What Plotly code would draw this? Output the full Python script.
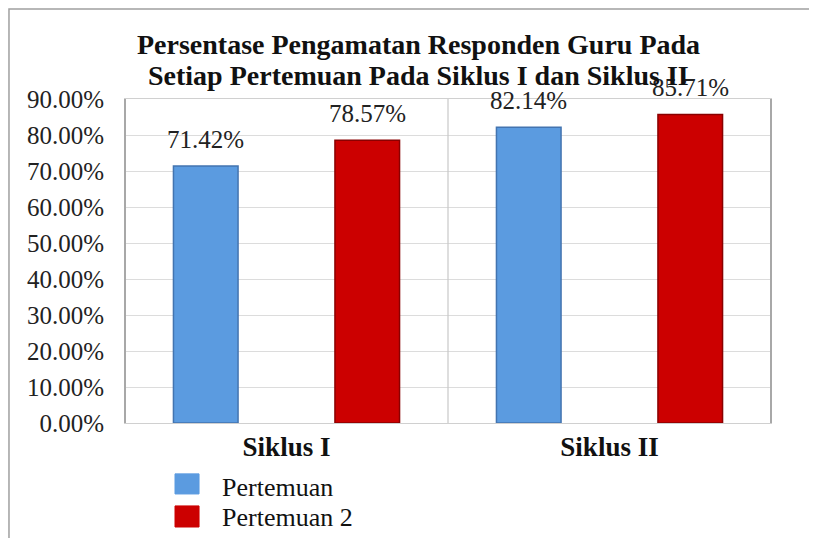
import plotly.graph_objects as go

# Data
categories = ["Siklus I", "Siklus II"]
series_names = ["Pertemuan", "Pertemuan 2"]
pertemuan_1 = [71.42, 82.14]
pertemuan_2 = [78.57, 85.71]
y_ticks = [0, 10, 20, 30, 40, 50, 60, 70, 80, 90]
y_tick_labels = [f"{v:.2f}%" for v in y_ticks]
title_lines = ["Persentase Pengamatan Responden Guru Pada",
               "Setiap Pertemuan Pada Siklus I dan Siklus II"]

serif = "Liberation Serif, Times New Roman, serif"
fills = ["#5b9be0", "#cc0000"]
edges = ["#4374b0", "#8a0000"]

fig = go.Figure()

for name, vals, fill, edge in zip(series_names, [pertemuan_1, pertemuan_2], fills, edges):
    fig.add_trace(go.Bar(x=categories, y=vals, name=name, showlegend=False,
                         marker=dict(color=fill, line=dict(color=edge, width=1.5))))

# value labels above the bars
for vals, shift in [(pertemuan_1, -81), (pertemuan_2, 81)]:
    for cat, v in zip(categories, vals):
        fig.add_annotation(x=cat, y=v, text=f"{v:.2f}%", xshift=shift, yshift=11,
                           yanchor="bottom", showarrow=False,
                           font=dict(family=serif, size=25, color="#222"))

# chart title (two lines, tighter line spacing than plotly's title)
for line, yv in zip(title_lines, [1.167, 1.071]):
    fig.add_annotation(xref="paper", yref="paper", x=0.455, y=yv, text=f"<b>{line}</b>",
                       xanchor="center", yanchor="middle", showarrow=False,
                       font=dict(family=serif, size=28, color="#111"))

# category divider (vertical gridline between groups)
fig.add_shape(type="line", xref="x", yref="paper", x0=0.5, x1=0.5, y0=0, y1=1,
              line=dict(color="#c8c8c8", width=1.2))
# darker left / right plot borders
for xv in (0, 1):
    fig.add_shape(type="line", xref="paper", yref="paper", x0=xv, x1=xv, y0=0, y1=1,
                  line=dict(color="#a8a8a8", width=2))

# outer chart frame
fig.add_shape(type="rect", xref="paper", yref="paper", x0=-0.1796, x1=1.3, y0=-0.6, y1=1.278,
              line=dict(color="#a0a0a0", width=1.5), layer="below")

# legend (drawn by hand to get the large square keys)
legend_rows = [(-0.157, -0.219, -0.200), (-0.256, -0.321, -0.293)]
for (y0, y1, yt), name, fill in zip(legend_rows, series_names, fills):
    fig.add_shape(type="rect", xref="paper", yref="paper", x0=0.0774, x1=0.1146, y0=y1, y1=y0,
                  fillcolor=fill, line=dict(color=fill, width=1))
    fig.add_annotation(xref="paper", yref="paper", x=0.147, y=yt, text=name,
                       xanchor="left", yanchor="middle", showarrow=False,
                       font=dict(family=serif, size=26, color="#111"))

fig.update_layout(
    font=dict(family=serif, color="#222"),
    barmode="group",
    bargap=0.0,
    bargroupgap=0.6,
    width=817,
    height=538,
    margin=dict(l=117, r=54, t=91, b=123),
    paper_bgcolor="white",
    plot_bgcolor="white",
    showlegend=False,
    xaxis=dict(tickfont=dict(family=serif, size=27, color="#111"),
               tickvals=categories, ticktext=[f"<b>{c}</b>" for c in categories],
               showline=True, linecolor="#d0d0d0", mirror=True, automargin=False,
               ticks="", range=[-0.5, 1.5], ticklabelstandoff=0),
    yaxis=dict(range=[0, 90], tickvals=y_ticks, ticktext=y_tick_labels,
               tickfont=dict(family=serif, size=25, color="#222"),
               showgrid=True, gridcolor="#dcdcdc", gridwidth=1.2,
               showline=True, linecolor="#d0d0d0", mirror=True, automargin=False,
               zeroline=False, ticks="", ticklabelstandoff=15),
)

fig.write_html("out.html")
